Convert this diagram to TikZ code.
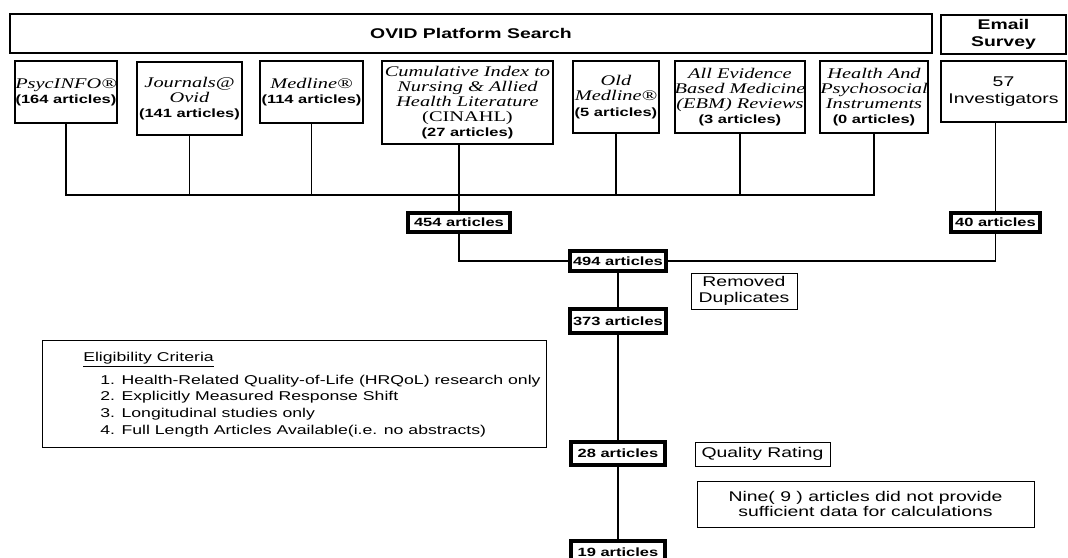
\documentclass[tikz,border=0pt]{standalone}
\usepackage{fontspec}
\setmainfont{Liberation Sans}[FakeStretch=1.38]
\newfontfamily\serifit{Liberation Serif}[FakeStretch=1.38]
\usetikzlibrary{positioning}

\newcommand{\dbname}[1]{{\serifit\itshape #1}}
\newcommand{\nart}[1]{{\bfseries\fontsize{8.5}{10}\selectfont (#1 articles)}}

\tikzset{
	srcbox/.style={
		draw,
		line width=1.3pt,
		inner sep=0pt,
		align=center,
		font=\fontsize{10.5}{10.8}\selectfont
	},
	cntbox/.style={
		draw,
		line width=2.4pt,
		inner sep=0pt,
		font=\bfseries\fontsize{8.5}{10}\selectfont
	},
	notebox/.style={
		draw,
		line width=0.6pt,
		inner sep=0pt,
		align=center,
		font=\fontsize{10}{11}\selectfont
	},
	link/.style={
		line width=1.2pt
	}
}

\begin{document}
\begin{tikzpicture}[x=0.025cm, y=-0.025cm]
	\useasboundingbox (0,0) rectangle (1068,558);

	% header row
	\node[srcbox, minimum width=23.05cm, minimum height=0.975cm, font=\bfseries\fontsize{10}{11}\selectfont] (ovid) at (471,33.5) {OVID Platform Search};
	\node[srcbox, minimum width=3.125cm, minimum height=0.975cm, font=\bfseries\fontsize{10}{12.3}\selectfont] (email) at (1003.5,34.5) {Email\\Survey};

	% databases
	\node[srcbox, minimum width=2.55cm, minimum height=1.55cm] (psyc) at (66,92) {\dbname{PsycINFO®}\\\nart{164}};
	\node[srcbox, minimum width=2.625cm, minimum height=1.825cm] (jour) at (189.5,98.5) {\dbname{Journals@}\\\dbname{Ovid}\\\nart{141}};
	\node[srcbox, minimum width=2.575cm, minimum height=1.55cm] (medl) at (311.5,92) {\dbname{Medline®}\\\nart{114}};
	\node[srcbox, minimum width=4.275cm, minimum height=2.075cm] (cinahl) at (467.5,102.5) {\dbname{Cumulative Index to}\\\dbname{Nursing \& Allied}\\\dbname{Health Literature}\\{\serifit (CINAHL)}\\\nart{27}};
	\node[srcbox, minimum width=2.15cm, minimum height=1.8cm] (oldmed) at (616,97) {\dbname{Old}\\\dbname{Medline®}\\\nart{5}};
	\node[srcbox, minimum width=3.15cm, minimum height=1.8cm] (ebm) at (740,97) {\dbname{All Evidence}\\\dbname{Based Medicine}\\\dbname{(EBM) Reviews}\\\nart{3}};
	\node[srcbox, minimum width=2.65cm, minimum height=1.8cm] (hpi) at (874,97) {\dbname{Health And}\\\dbname{Psychosocial}\\\dbname{Instruments}\\\nart{0}};
	\node[srcbox, minimum width=3.125cm, minimum height=1.525cm, font=\fontsize{10}{12.5}\selectfont] (inv) at (1003.5,91.5) {57\\Investigators};

	% counts
	\node[cntbox, minimum width=2.55cm, minimum height=0.475cm] (n454) at (459,222.5) {454 articles};
	\node[cntbox, minimum width=2.225cm, minimum height=0.475cm] (n40) at (995.5,222.5) {40 articles};
	\node[cntbox, minimum width=2.4cm, minimum height=0.5cm] (n494) at (618,261) {494 articles};
	\node[cntbox, minimum width=2.4cm, minimum height=0.6cm] (n373) at (618,321) {373 articles};
	\node[cntbox, minimum width=2.35cm, minimum height=0.575cm] (n28) at (618,453.5) {28 articles};
	\node[cntbox, minimum width=2.35cm, minimum height=0.55cm] (n19) at (618,552) {19 articles};

	% side notes
	\node[notebox, minimum width=2.65cm, minimum height=0.9cm] (dup) at (744,291) {Removed\\Duplicates};
	\node[notebox, minimum width=3.375cm, minimum height=0.6cm] (qual) at (762.5,454) {Quality Rating};
	\node[notebox, minimum width=8.425cm, minimum height=1.15cm] (nine) at (865.5,504) {Nine( 9 ) articles did not provide\\sufficient data for calculations};
	\node[notebox, minimum width=12.6cm, minimum height=2.675cm] (elig) at (294,393.5) {};
	\node[inner sep=0pt, anchor=north west, align=left, font=\fontsize{9.1}{12}\selectfont] (eligtext) at (83,352) {\underline{Eligibility Criteria}\\[4pt]
		\hspace*{0.425cm}1. Health-Related Quality-of-Life (HRQoL) research only\\
		\hspace*{0.425cm}2. Explicitly Measured Response Shift\\
		\hspace*{0.425cm}3. Longitudinal studies only\\
		\hspace*{0.425cm}4. Full Length Articles Available(i.e. no abstracts)};

	% connectors
	\coordinate (bus) at (0,195);
	\draw[link] (psyc.south) -- (psyc.south |- bus) -- (hpi.south |- bus) -- (hpi.south);
	\foreach \db in {jour, medl, oldmed, ebm}
		\draw[link] (\db.south) -- (\db.south |- bus);
	\draw[link] (cinahl.south -| n454) -- (n454.north);
	\draw[link] (inv.south -| n40) -- (n40.north);
	\draw[link] (n454.south) |- (n494.west);
	\draw[link] (n40.south) |- (n494.east);
	\draw[link] (n494.south) -- (n373.north);
	\draw[link] (n373.south) -- (n28.north);
	\draw[link] (n28.south) -- (n19.north);
\end{tikzpicture}
\end{document}
